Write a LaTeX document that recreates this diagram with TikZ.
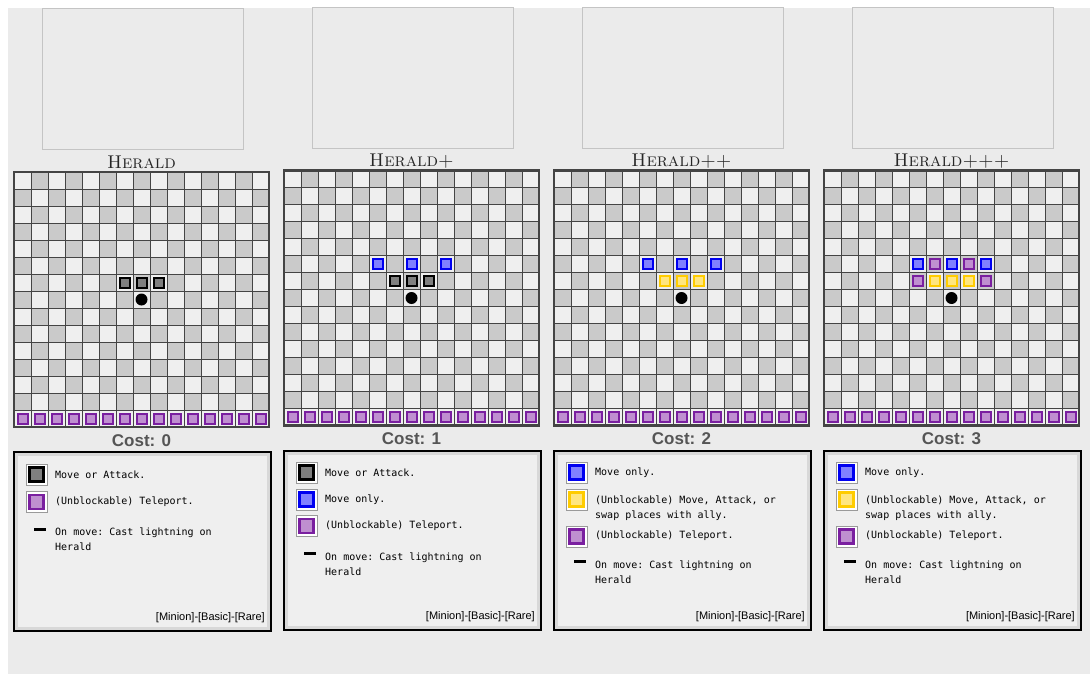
\documentclass[tikz,border=0pt]{standalone}
\usepackage{fontspec}
\setsansfont{Liberation Sans}
\setmonofont{DejaVu Sans Mono}

\definecolor{pagebg}{HTML}{EBEBEB}
\definecolor{framecol}{HTML}{C4C4C4}
\definecolor{celllight}{HTML}{EFEFEF}
\definecolor{celldark}{HTML}{CACACA}
\definecolor{gridcol}{HTML}{444444}
\definecolor{atkfill}{HTML}{7F7F7F}
\definecolor{movefill}{HTML}{8080FF}
\definecolor{moveline}{HTML}{0000F0}
\definecolor{swapfill}{HTML}{FFE680}
\definecolor{swapline}{HTML}{FFCC00}
\definecolor{tpfill}{HTML}{BF8FD0}
\definecolor{tpline}{HTML}{7A1FA0}
\definecolor{costcol}{HTML}{555555}
\definecolor{legmargin}{HTML}{D8D8D8}
\definecolor{legfill}{HTML}{EFEFEF}
\definecolor{iconline}{HTML}{9A9A9A}

\tikzset{
  cellline/.style={draw=gridcol, line width=1pt},
  sqmark/.style={draw, line width=2pt, inner sep=0pt, minimum size=10pt},
  atk/.style={sqmark, draw=black, fill=atkfill},
  mvonly/.style={sqmark, draw=moveline, fill=movefill},
  swap/.style={sqmark, draw=swapline, fill=swapfill},
  tport/.style={sqmark, draw=tpline, fill=tpfill},
  bigmark/.style={line width=2.5pt, minimum size=14pt},
  icon/.style={draw=iconline, fill=white, line width=1pt, inner sep=0pt, minimum size=21pt},
  hero/.style={circle, fill=black, inner sep=0pt, minimum size=12pt},
  titletext/.style={anchor=base, inner sep=0pt, text=black!85, font=\fontsize{18.5}{18}\selectfont\scshape},
  costtext/.style={anchor=base, inner sep=0pt, text=costcol, font=\sffamily\bfseries\fontsize{17}{17}\selectfont},
  legtext/.style={anchor=west, inner sep=0pt, align=left, font=\ttfamily\fontsize{10}{15.5}\selectfont},
  rarity/.style={anchor=east, inner sep=0pt, font=\sffamily\fontsize{11}{11}\selectfont},
  bolt/.style={line width=3pt, black}
}

\begin{document}
\begin{tikzpicture}[x=1pt, y=-1pt]
  \useasboundingbox (0,0) rectangle (1090,674);
  \fill[pagebg] (8,8) rectangle (1090,674);

  % common parts of the four panels
  \foreach \k/\name/\cost/\dy in {0/Herald/0/172, 1/Herald+/1/170.5, 2/Herald++/2/170.5, 3/Herald+++/3/170.5} {
    \begin{scope}[shift={(14+270*\k,\dy)}]
      % picture frame and name
      \draw[framecol, line width=1pt] (28.5,-163) rectangle (229.5,-22);
      \node[titletext] (title\k) at (127.5,-4) {\name};
      % board
      \fill[celllight] (0,0) rectangle (255,255);
      \foreach \r in {0,...,13} {
        \foreach \c in {0,...,14} {
          \ifodd\numexpr\r+\c\relax
            \fill[celldark] (17*\c,17*\r) rectangle ++(17,17);
          \fi
        }
      }
      \foreach \i in {1,...,14} {
        \draw[cellline] (17*\i,0) -- (17*\i,255);
        \draw[cellline] (0,17*\i) -- (255,17*\i);
      }
      \draw[gridcol, line width=2.2pt] (0,0) rectangle (255,255);
      % teleport row
      \foreach \c in {0,...,14}
        \node[tport] (tp\k-\c) at (17*\c+8.5,246.5) {};
      \node[hero] (hero\k) at (127.5,127.5) {};
      \node[costtext] (cost\k) at (127.5,274) {Cost: \cost};
      % legend frame
      \fill[legmargin] (0,280) rectangle (257,459);
      \fill[legfill] (4,284) rectangle (253,455);
      \draw[black, line width=2pt] (0,280) rectangle (257,459);
      \node[rarity] (rar\k) at (251,446) {[Minion]-[Basic]-[Rare]};
    \end{scope}
  }

  % Herald
  \begin{scope}[shift={(14,172)}]
    \node[atk] (a0-6) at (110.5,110.5) {};
    \node[atk] (a0-7) at (127.5,110.5) {};
    \node[atk] (a0-8) at (144.5,110.5) {};
  \end{scope}
  \begin{scope}[shift={(14,452)}]
    \node[icon] (i0a) at (22.5,22.5) {};
    \node[atk, bigmark] at (i0a) {};
    \node[legtext] (t0a) at (41,22.5) {Move or Attack.};
    \node[icon] (i0b) at (22.5,50) {};
    \node[tport, bigmark] at (i0b) {};
    \node[legtext] (t0b) at (41,50) {(Unblockable) Teleport.};
    \coordinate (d0a) at (20,77);
    \coordinate (d0b) at (32,77);
    \draw[bolt] (d0a) -- (d0b);
    \node[legtext] (t0c) at (41,87) {On move: Cast lightning on\\Herald};
  \end{scope}

  % Herald+
  \begin{scope}[shift={(284,170.5)}]
    \node[mvonly] (m1-5) at (93.5,93.5) {};
    \node[mvonly] (m1-7) at (127.5,93.5) {};
    \node[mvonly] (m1-9) at (161.5,93.5) {};
    \node[atk] (a1-6) at (110.5,110.5) {};
    \node[atk] (a1-7) at (127.5,110.5) {};
    \node[atk] (a1-8) at (144.5,110.5) {};
  \end{scope}
  \begin{scope}[shift={(284,450)}]
    \node[icon] (i1a) at (22.5,22.5) {};
    \node[atk, bigmark] at (i1a) {};
    \node[legtext] (t1a) at (41,22.5) {Move or Attack.};
    \node[icon] (i1b) at (22.5,49.5) {};
    \node[mvonly, bigmark] at (i1b) {};
    \node[legtext] (t1b) at (41,49.5) {Move only.};
    \node[icon] (i1c) at (22.5,76) {};
    \node[tport, bigmark] at (i1c) {};
    \node[legtext] (t1c) at (41,76) {(Unblockable) Teleport.};
    \coordinate (d1a) at (20,103);
    \coordinate (d1b) at (32,103);
    \draw[bolt] (d1a) -- (d1b);
    \node[legtext] (t1d) at (41,114) {On move: Cast lightning on\\Herald};
  \end{scope}

  % Herald++
  \begin{scope}[shift={(554,170.5)}]
    \node[mvonly] (m2-5) at (93.5,93.5) {};
    \node[mvonly] (m2-7) at (127.5,93.5) {};
    \node[mvonly] (m2-9) at (161.5,93.5) {};
    \node[swap] (s2-6) at (110.5,110.5) {};
    \node[swap] (s2-7) at (127.5,110.5) {};
    \node[swap] (s2-8) at (144.5,110.5) {};
  \end{scope}
  \begin{scope}[shift={(554,450)}]
    \node[icon] (i2a) at (22.5,22.5) {};
    \node[mvonly, bigmark] at (i2a) {};
    \node[legtext] (t2a) at (41,23) {Move only.};
    \node[icon] (i2b) at (22.5,49.5) {};
    \node[swap, bigmark] at (i2b) {};
    \node[legtext] (t2b) at (41,58.3) {(Unblockable) Move, Attack, or\\swap places with ally.};
    \node[icon] (i2c) at (22.5,86.5) {};
    \node[tport, bigmark] at (i2c) {};
    \node[legtext] (t2c) at (41,86) {(Unblockable) Teleport.};
    \coordinate (d2a) at (20,111);
    \coordinate (d2b) at (32,111);
    \draw[bolt] (d2a) -- (d2b);
    \node[legtext] (t2d) at (41,122) {On move: Cast lightning on\\Herald};
  \end{scope}

  % Herald+++
  \begin{scope}[shift={(824,170.5)}]
    \node[mvonly] (m3-5) at (93.5,93.5) {};
    \node[tport] (p3-6) at (110.5,93.5) {};
    \node[mvonly] (m3-7) at (127.5,93.5) {};
    \node[tport] (p3-8) at (144.5,93.5) {};
    \node[mvonly] (m3-9) at (161.5,93.5) {};
    \node[tport] (p3-5) at (93.5,110.5) {};
    \node[swap] (s3-6) at (110.5,110.5) {};
    \node[swap] (s3-7) at (127.5,110.5) {};
    \node[swap] (s3-8) at (144.5,110.5) {};
    \node[tport] (p3-9) at (161.5,110.5) {};
  \end{scope}
  \begin{scope}[shift={(824,450)}]
    \node[icon] (i3a) at (22.5,22.5) {};
    \node[mvonly, bigmark] at (i3a) {};
    \node[legtext] (t3a) at (41,23) {Move only.};
    \node[icon] (i3b) at (22.5,49.5) {};
    \node[swap, bigmark] at (i3b) {};
    \node[legtext] (t3b) at (41,58.3) {(Unblockable) Move, Attack, or\\swap places with ally.};
    \node[icon] (i3c) at (22.5,86.5) {};
    \node[tport, bigmark] at (i3c) {};
    \node[legtext] (t3c) at (41,86) {(Unblockable) Teleport.};
    \coordinate (d3a) at (20,111);
    \coordinate (d3b) at (32,111);
    \draw[bolt] (d3a) -- (d3b);
    \node[legtext] (t3d) at (41,122) {On move: Cast lightning on\\Herald};
  \end{scope}
\end{tikzpicture}
\end{document}
